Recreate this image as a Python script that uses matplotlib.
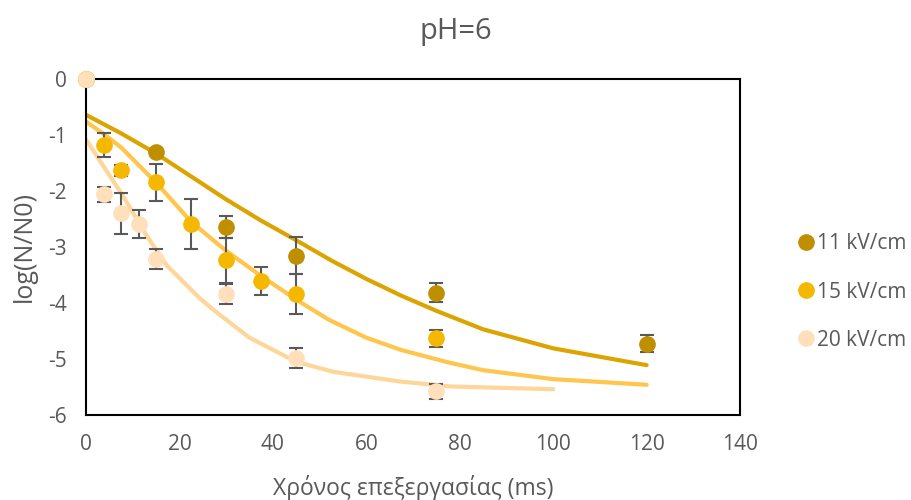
import matplotlib.pyplot as plt

# measured points
t11 = [0, 15, 30, 45, 75, 120]
y11 = [0, -1.31, -2.64, -3.16, -3.82, -4.73]
e11 = [0, 0.05, 0.2, 0.33, 0.17, 0.15]

t15 = [0, 3.75, 7.5, 15, 22.5, 30, 37.5, 45, 75]
y15 = [0, -1.18, -1.63, -1.84, -2.59, -3.24, -3.61, -3.84, -4.63]
e15 = [0, 0.21, 0.1, 0.33, 0.44, 0.4, 0.25, 0.35, 0.15]

t20 = [0, 3.75, 7.5, 11.25, 15, 30, 45, 75]
y20 = [0, -2.06, -2.4, -2.59, -3.21, -3.84, -4.98, -5.58]
e20 = [0, 0.13, 0.36, 0.25, 0.18, 0.18, 0.18, 0.13]

# model curves
m11_t = [0, 7.5, 15, 22.5, 30, 37.5, 45, 52.5, 60, 67.5, 75, 85, 100, 120]
m11_y = [-0.64, -0.97, -1.33, -1.74, -2.15, -2.53, -2.88, -3.24, -3.57, -3.87, -4.14, -4.47, -4.81, -5.11]
m15_t = [0, 3.75, 7.5, 15, 22.5, 30, 37.5, 45, 52, 60, 67.5, 77.5, 85, 100, 120]
m15_y = [-0.76, -0.98, -1.22, -1.85, -2.55, -3.07, -3.52, -3.94, -4.3, -4.62, -4.84, -5.06, -5.2, -5.36, -5.46]
m20_t = [0, 4, 8, 13, 17.3, 24.4, 28, 35, 45, 53, 67, 78, 100]
m20_y = [-1.08, -1.59, -2.1, -2.8, -3.33, -3.92, -4.17, -4.62, -5.05, -5.23, -5.4, -5.49, -5.54]

labels = ["11 kV/cm", "15 kV/cm", "20 kV/cm"]
mcolors = ["#BF8F00", "#F5B800", "#FFE0BA"]
lcolors = ["#DBA400", "#FFC54D", "#FFD699"]

plt.rcParams["font.family"] = ["Open Sans", "DejaVu Sans"]
plt.rcParams["axes.unicode_minus"] = False

fig = plt.figure(figsize=(9.11, 5), dpi=100)
ax = fig.add_axes([0.0944, 0.17, 0.718, 0.672])

for mt, my, c in zip([m11_t, m15_t, m20_t], [m11_y, m15_y, m20_y], lcolors):
    ax.plot(mt, my, color=c, lw=3, solid_capstyle="round", solid_joinstyle="round", zorder=2)

handles = []
for t, y, e, c, lab in zip([t11, t15, t20], [y11, y15, y20], [e11, e15, e20], mcolors, labels):
    ax.errorbar(t, y, yerr=e, fmt="none", ecolor="#595959", elinewidth=1.5,
                capsize=5, capthick=1.5, zorder=3)
    h, = ax.plot(t, y, "o", color=c, ms=11, clip_on=False, zorder=4, label=lab)
    handles.append(h)

ax.set_xlim(0, 140)
ax.set_ylim(-6, 0)
ax.set_xticks(range(0, 141, 20))
ax.set_yticks(range(-6, 1))
ax.tick_params(length=0, labelsize=15, labelcolor="#595959")
ax.tick_params(axis="x", pad=14)
ax.tick_params(axis="y", pad=14)
for s in ax.spines.values():
    s.set_linewidth(1.5)
    s.set_color("black")

ax.set_xlabel("Χρόνος επεξεργασίας (ms)", fontsize=16.5, color="#595959", labelpad=14)
ax.set_ylabel("log(N/N0)", fontsize=18, color="#595959", labelpad=8)
fig.suptitle("pH=6", fontsize=21, color="#595959", x=0.5, y=0.965)

fig.legend(handles=handles, loc="center left", bbox_to_anchor=(0.855, 0.416),
           frameon=False, fontsize=15, labelcolor="#595959", handlelength=0.8,
           handletextpad=0.15, labelspacing=1.3, markerscale=1.0)

fig.savefig("out.png")
